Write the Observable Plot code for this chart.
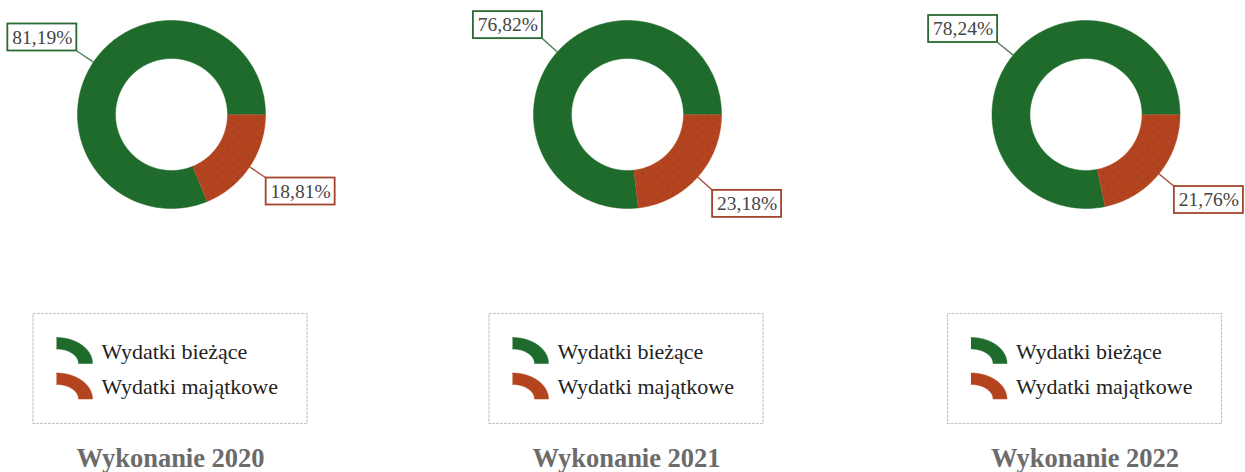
<!DOCTYPE html>
<html><head><meta charset="utf-8">
<script src="https://cdn.jsdelivr.net/npm/d3@7"></script>
<script src="https://cdn.jsdelivr.net/npm/@observablehq/plot@0.6"></script>
<style>body{margin:0;background:#fff} #chart svg{display:block;background:#fff}</style>
</head><body><div id="chart"></div>
<svg width="0" height="0" style="position:absolute">
  <defs>
    <pattern id="dots" width="10" height="10" patternUnits="userSpaceOnUse">
      <circle cx="2.5" cy="2.5" r="0.75" fill="#7d2d5c"/>
      <circle cx="7.5" cy="7.5" r="0.75" fill="#7d2d5c"/>
    </pattern>
  </defs>
</svg>
<script>
// ---- data ----
const years = ["2020", "2021", "2022"];
const seriesNames = ["Wydatki bieżące", "Wydatki majątkowe"];
const biezace = [81.19, 76.82, 78.24];
const majatkowe = [18.81, 23.18, 21.76];
const titlePrefix = "Wykonanie";

// ---- layout / style ----
const W = 1245, H = 472;
const centersX = [171, 627, 1085.5], CY = 114;
const R_OUT = 94, R_IN = 56, R_LEAD = 114;
const FILLS = ["#1e6b2b", "#b3441e"];
const BOX_STROKES = ["#2a6a32", "#a3432c"];
const LEAD_STROKES = ["#55805a", "#a8563f"];
const SERIF = "'Liberation Serif', 'DejaVu Serif', serif";
const BOX_W = 69, BOX_H = 27;
const LEG_W = 274, LEG_Y1 = 313.5, LEG_Y2 = 423.5;

const rad = d => d * Math.PI / 180;
const pt = (cx, cy, rx, ry, a) => [cx + rx * Math.sin(rad(a)), cy - ry * Math.cos(rad(a))];
function arcPoly(cx, cy, rx0, ry0, rx1, ry1, a0, a1, key, s) {
  const n = Math.max(2, Math.ceil(Math.abs(a1 - a0)));
  const out = [];
  for (let k = 0; k <= n; k++) { const [x, y] = pt(cx, cy, rx1, ry1, a0 + (a1 - a0) * k / n); out.push({x, y, key, s}); }
  for (let k = n; k >= 0; k--) { const [x, y] = pt(cx, cy, rx0, ry0, a0 + (a1 - a0) * k / n); out.push({x, y, key, s}); }
  return out;
}

const slicePts = [], leaders = [], boxes = [], legendBoxes = [], iconPts = [], legendTexts = [], titles = [];
years.forEach((yr, i) => {
  const cx = centersX[i];
  const vals = [biezace[i], majatkowe[i]];
  const mEnd = 90 + majatkowe[i] * 3.6;
  const spans = [[mEnd, 450], [90, mEnd]];
  spans.forEach(([a0, a1], s) => {
    slicePts.push(...arcPoly(cx, CY, R_IN, R_IN, R_OUT, R_OUT, a0, a1, yr + "-" + s, s));
    const mid = (a0 + a1) / 2;
    const [x1, y1] = pt(cx, CY, R_OUT, R_OUT, mid);
    const [x2, y2] = pt(cx, CY, R_LEAD, R_LEAD, mid);
    leaders.push({x1, y1, x2, y2, s});
    const left = Math.sin(rad(mid)) < 0;
    const up = Math.cos(rad(mid)) > 0;
    const bx1 = left ? x2 - BOX_W : x2, by1 = up ? y2 - BOX_H : y2;
    boxes.push({x1: bx1, x2: bx1 + BOX_W, y1: by1, y2: by1 + BOX_H, s,
      text: vals[s].toFixed(2).replace(".", ",") + "%"});
  });
  const L = cx - 138;
  legendBoxes.push({x1: L, x2: L + LEG_W, y1: LEG_Y1, y2: LEG_Y2});
  seriesNames.forEach((name, s) => {
    const iy = 363 + s * 35.5;
    iconPts.push(...arcPoly(L + 23, iy, 22, 14.5, 36, 26, 0, 90, yr + "-icon-" + s, s));
    legendTexts.push({x: L + 68, y: 351 + s * 35, text: name});
  });
  titles.push({x: cx - 1, y: 458.5, text: titlePrefix + " " + yr});
});

const chart = Plot.plot({
  width: W, height: H, margin: 0,
  x: {domain: [0, W], range: [0, W], axis: null},
  y: {domain: [0, H], range: [0, H], axis: null},
  style: {background: "#fff"},
  marks: [
    ...[0, 1].map(s => Plot.line(slicePts.filter(d => d.s === s), {x: "x", y: "y", z: "key", fill: FILLS[s], stroke: FILLS[s], strokeWidth: 0.5})),
    Plot.line(slicePts.filter(d => d.s === 1), {x: "x", y: "y", z: "key", fill: "url(#dots)", stroke: "none"}),
    ...[0, 1].map(s => Plot.link(leaders.filter(d => d.s === s), {x1: "x1", y1: "y1", x2: "x2", y2: "y2", stroke: LEAD_STROKES[s], strokeWidth: 1.4})),
    ...[0, 1].map(s => Plot.rect(boxes.filter(d => d.s === s), {x1: "x1", x2: "x2", y1: "y1", y2: "y2", fill: "white", stroke: BOX_STROKES[s], strokeWidth: 1.8})),
    Plot.text(boxes, {x: d => (d.x1 + d.x2) / 2, y: d => (d.y1 + d.y2) / 2, text: "text", fontFamily: SERIF, fontSize: 19.5, fill: "#444"}),
    Plot.rect(legendBoxes, {x1: "x1", x2: "x2", y1: "y1", y2: "y2", fill: "none", stroke: "#c4c4c4", strokeWidth: 1.2, strokeDasharray: "3,1"}),
    ...[0, 1].map(s => Plot.line(iconPts.filter(d => d.s === s), {x: "x", y: "y", z: "key", fill: FILLS[s], stroke: FILLS[s], strokeWidth: 0.5})),
    Plot.text(legendTexts, {x: "x", y: "y", text: "text", textAnchor: "start", fontFamily: SERIF, fontSize: 22, fill: "#222"}),
    Plot.text(titles, {x: "x", y: "y", text: "text", fontFamily: SERIF, fontSize: 26.5, fontWeight: "bold", fill: "#6b6b6b"})
  ]
});
document.getElementById("chart").appendChild(chart);
</script>
</body></html>
